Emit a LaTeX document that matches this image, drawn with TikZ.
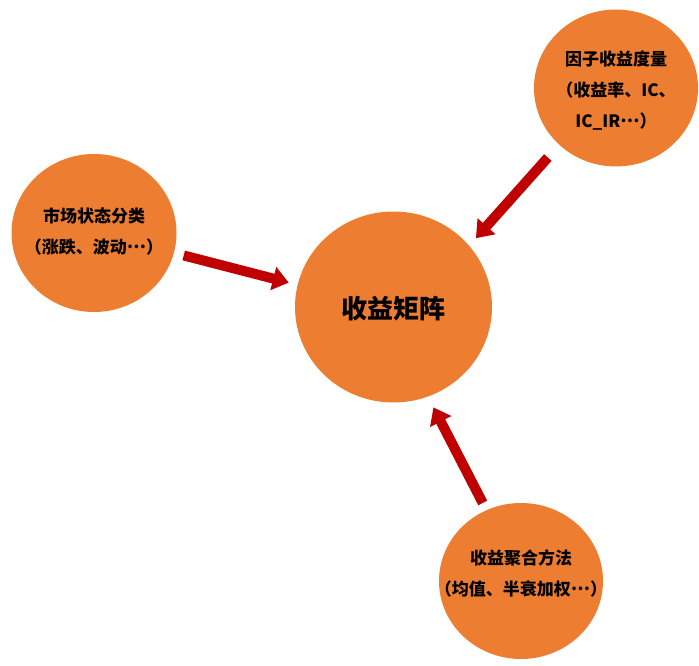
\documentclass[tikz,border=0pt]{standalone}
\usepackage{fontspec}
\newfontfamily\cjk{Noto Sans CJK SC}
\usetikzlibrary{shapes.geometric,arrows.meta,calc}
\definecolor{orangeC}{HTML}{ED7D31}
\definecolor{redC}{HTML}{C00000}
\newcommand{\middots}{\raisebox{0.3em}{…}}
\begin{document}
\begin{tikzpicture}[x=1pt,y=-1pt,
  bubble/.style={ellipse, fill=orangeC, draw=none, inner sep=0pt},
  small/.style={font=\cjk\bfseries\fontsize{17}{31}\selectfont, align=center, text=black, inner sep=0pt},
  bigtext/.style={font=\cjk\bfseries\fontsize{26}{30}\selectfont, text=black, inner sep=0pt},
  blockarrow/.style={draw=redC, line width=10pt, -{Triangle[width=23pt,length=16pt]}}]
\useasboundingbox (0,0) rectangle (699,666);
% bubbles
\node[bubble, minimum width=165pt, minimum height=158pt] (ms) at (94,233) {};
\node[bubble, minimum width=164pt, minimum height=157pt] (fm) at (616,88) {};
\node[bubble, minimum width=164pt, minimum height=156pt] (ag) at (521,581) {};
\node[bubble, minimum width=197pt, minimum height=191pt] (rm) at (393.5,307) {};
% texts
\node[small] (mst) at ($(ms)+(0,-1.5)$) {市场状态分类\\（涨跌、波动\middots）};
\node[small] (fmt) at ($(fm)+(0,3)$) {因子收益度量\\（收益率、IC、\\IC\_IR\middots）};
\node[small] (agt) at ($(ag)+(0,-7.5)$) {收益聚合方法\\（均值、半衰加权\middots）};
\node[bigtext] (rmt) at ($(rm)+(0,2)$) {收益矩阵};
% arrows
\draw[blockarrow, shorten <=10pt, shorten >=9pt] (ms.-14.5) -- (rm.167);
\draw[blockarrow, shorten <=17pt, shorten >=10pt] (fm.225) -- (rm.39);
\draw[blockarrow, shorten <=8pt, shorten >=12pt] (ag.116) -- (rm.-69);
\end{tikzpicture}
\end{document}
